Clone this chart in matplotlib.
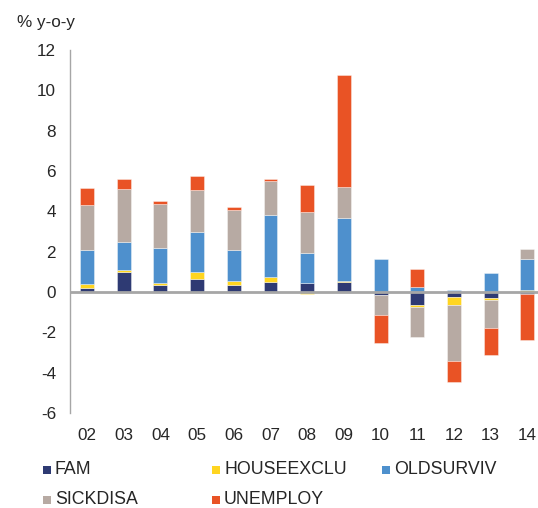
import numpy as np
import matplotlib
matplotlib.use("Agg")
import matplotlib.pyplot as plt
from matplotlib.patches import Rectangle

plt.rcParams['font.family'] = ['Liberation Sans', 'DejaVu Sans']

years = ["02", "03", "04", "05", "06", "07", "08", "09", "10", "11", "12", "13", "14"]

fam = [0.20, 0.98, 0.33, 0.63, 0.35, 0.48, 0.47, 0.50, -0.17, -0.63, -0.25, -0.28, -0.10]
houseexclu = [0.20, 0.10, 0.13, 0.38, 0.20, 0.25, -0.08, 0.03, 0.00, -0.12, -0.40, -0.12, 0.08]
oldsurviv = [1.68, 1.42, 1.73, 1.95, 1.53, 3.07, 1.48, 3.12, 1.62, 0.25, 0.08, 0.95, 1.58]
sickdisa = [2.25, 2.63, 2.17, 2.12, 2.00, 1.68, 2.03, 1.58, -0.98, -1.47, -2.75, -1.38, 0.47]
unemploy = [0.83, 0.45, 0.17, 0.68, 0.15, 0.12, 1.32, 5.55, -1.38, 0.88, -1.08, -1.33, -2.27]

series_names = ["FAM", "HOUSEEXCLU", "OLDSURVIV", "SICKDISA", "UNEMPLOY"]
series_vals = [fam, houseexclu, oldsurviv, sickdisa, unemploy]
colors = ["#2E3A73", "#FFD520", "#4E90CD", "#B7AAA3", "#E95325"]

text_color = "#262626"
axis_gray = "#A6A6A6"

fig = plt.figure(figsize=(5.38, 5.08), dpi=100)
ax = fig.add_axes([70 / 538, 1 - 413 / 508, 1 - 70 / 538, (413 - 50) / 508])

x = np.arange(len(years))
pos_base = np.zeros(len(years))
neg_base = np.zeros(len(years))
for name, vals, col in zip(series_names, series_vals, colors):
    v = np.array(vals, dtype=float)
    bottoms = np.where(v >= 0, pos_base, neg_base)
    ax.bar(x, v, bottom=bottoms, width=0.38, color=col,
           edgecolor=(1, 1, 1, 0.45), linewidth=0.6, zorder=2)
    pos_base += np.where(v >= 0, v, 0)
    neg_base += np.where(v < 0, v, 0)

ax.set_xlim(-0.463, 12.29)
ax.set_ylim(-6, 12)
ax.set_yticks(np.arange(-6, 13, 2))
ax.set_yticklabels([str(t) for t in range(-6, 13, 2)])
ax.set_xticks(x)
ax.set_xticklabels(years)

for s in ["top", "right", "bottom"]:
    ax.spines[s].set_visible(False)
ax.spines["left"].set_color(axis_gray)
ax.spines["left"].set_linewidth(1.0)
ax.axhline(0, color=axis_gray, linewidth=2.0, zorder=3)

ax.tick_params(axis="both", length=0, labelsize=12.3, colors=text_color)
ax.tick_params(axis="y", pad=10)
ax.tick_params(axis="x", pad=11)

fig.text(17 / 538, 1 - 23 / 508, "% y-o-y", fontsize=12.3, color=text_color,
         ha="left", va="center")

# legend, laid out on a fixed grid
legend_pos = [(43, 470), (212, 470), (382, 470), (43, 500), (212, 500)]
for (lx, ly), name, col in zip(legend_pos, series_names, colors):
    fig.patches.append(Rectangle((lx / 538, 1 - (ly + 4) / 508), 8 / 538, 8 / 508,
                                 transform=fig.transFigure, facecolor=col,
                                 edgecolor="none"))
    fig.text((lx + 12) / 538, 1 - ly / 508, name, fontsize=12.8, color=text_color,
             ha="left", va="center")

fig.savefig("out.png", dpi=100)
